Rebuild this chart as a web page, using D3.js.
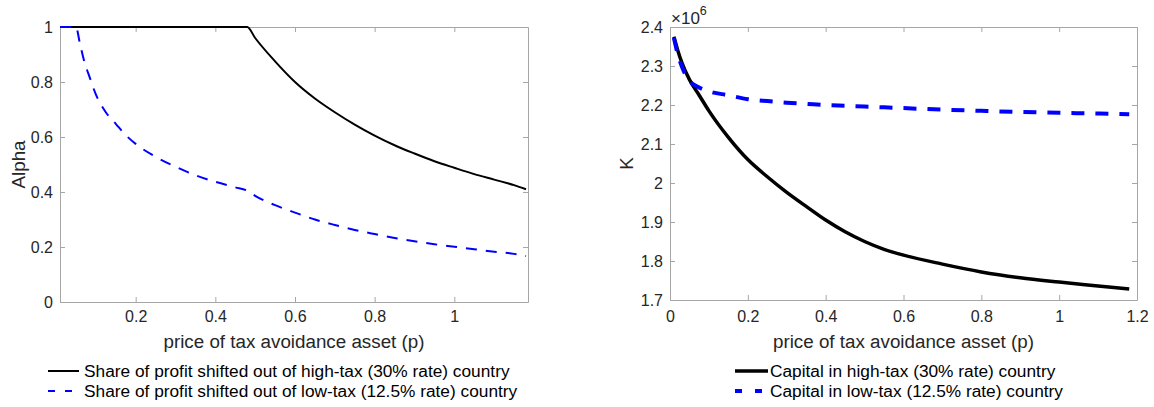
<!DOCTYPE html>
<html lang="en">
<head>
<meta charset="UTF-8">
<title>Profit shifting and capital vs price of tax avoidance asset</title>
<style>
  body { margin: 0; background: #fff; font-family: "Liberation Sans", Arial, sans-serif; }
  .tick text { fill: #262626; font-size: 16px; }
  .lab { fill: #262626; font-size: 18.8px; }
  .leg { fill: #000; font-size: 17.3px; }
</style>
</head>
<body>
<svg width="1154" height="407"></svg>
<script src="https://d3js.org/d3.v7.min.js"></script>
<script>
// left panel: share of profit shifted (alpha)
const pHigh = [0.01, 0.1, 0.2, 0.3, 0.4, 0.48, 0.5, 0.55, 0.6, 0.65, 0.7, 0.75, 0.8, 0.85, 0.9, 0.95, 1.0, 1.05, 1.1, 1.15, 1.18];
const alphaHigh = [1, 1, 1, 1, 1, 1, 0.96, 0.875, 0.80, 0.74, 0.69, 0.645, 0.605, 0.57, 0.54, 0.512, 0.488, 0.465, 0.445, 0.425, 0.41];
const pLow = [0.01, 0.05, 0.06, 0.07, 0.085, 0.1, 0.125, 0.15, 0.175, 0.2, 0.25, 0.3, 0.35, 0.4, 0.45, 0.48, 0.5, 0.55, 0.6, 0.65, 0.7, 0.75, 0.8, 0.85, 0.9, 0.95, 1.0, 1.05, 1.1, 1.15, 1.18];
const alphaLow = [1, 1, 0.94, 0.88, 0.815, 0.755, 0.69, 0.648, 0.607, 0.575, 0.528, 0.492, 0.461, 0.437, 0.417, 0.405, 0.386, 0.352, 0.325, 0.30, 0.28, 0.262, 0.247, 0.233, 0.221, 0.21, 0.201, 0.192, 0.183, 0.175, 0.167];

// right panel: capital K (x 1e6)
const pK = [0.01, 0.02, 0.03, 0.05, 0.075, 0.1, 0.15, 0.2, 0.25, 0.3, 0.35, 0.4, 0.45, 0.5, 0.55, 0.6, 0.7, 0.8, 0.9, 1.0, 1.1, 1.18];
const kHigh = [2.375, 2.34, 2.31, 2.265, 2.225, 2.185, 2.117, 2.06, 2.016, 1.976, 1.94, 1.905, 1.875, 1.85, 1.83, 1.815, 1.792, 1.772, 1.757, 1.746, 1.736, 1.728];
const kLow = [2.372, 2.33, 2.30, 2.262, 2.245, 2.235, 2.225, 2.215, 2.21, 2.206, 2.203, 2.2, 2.198, 2.196, 2.194, 2.192, 2.188, 2.185, 2.182, 2.18, 2.178, 2.176];

const leftTicksX = [0.2, 0.4, 0.6, 0.8, 1];
const leftTicksY = [0, 0.2, 0.4, 0.6, 0.8, 1];
const rightTicksX = [0, 0.2, 0.4, 0.6, 0.8, 1, 1.2];
const rightTicksY = [1.7, 1.8, 1.9, 2, 2.1, 2.2, 2.3, 2.4];

const svg = d3.select("svg");
const fmt = d => String(+d.toFixed(2));

function panel(o) {
  const x = d3.scaleLinear().domain(o.xd).range([o.x0, o.x1]);
  const y = d3.scaleLinear().domain(o.yd).range([o.y1, o.y0]);
  const g = svg.append("g");
  const tl = 5;

  // box + inward ticks on all sides
  const ax = (axis, tr, lab) => {
    const a = g.append("g").attr("transform", tr).call(axis);
    a.select(".domain").attr("stroke", "#a6a6a6").attr("stroke-width", 1);
    a.selectAll(".tick line").attr("stroke", "#a6a6a6");
    if (!lab) a.selectAll(".tick text").remove();
    return a;
  };
  ax(d3.axisBottom(x).tickValues(o.xt).tickSize(-tl).tickPadding(o.y1 === 302 ? 9 : 11).tickFormat(fmt).tickSizeOuter(0), `translate(0,${o.y1})`, true);
  ax(d3.axisTop(x).tickValues(o.xt).tickSize(-tl).tickSizeOuter(0), `translate(0,${o.y0})`, false);
  ax(d3.axisLeft(y).tickValues(o.yt).tickSize(-tl).tickPadding(7).tickFormat(fmt).tickSizeOuter(0), `translate(${o.x0},0)`, true);
  ax(d3.axisRight(y).tickValues(o.yt).tickSize(-tl).tickSizeOuter(0), `translate(${o.x1},0)`, false);

  const line = d3.line().x(d => x(d[0])).y(d => y(d[1])).curve(d3.curveMonotoneX);
  o.series.forEach(s => {
    g.append("path")
      .datum(s.xs.map((v, i) => [v, s.ys[i]]))
      .attr("fill", "none")
      .attr("stroke", s.color)
      .attr("stroke-width", s.w)
      .attr("stroke-dasharray", s.dash || null)
      .attr("d", line);
  });

  g.append("text").attr("class", "lab")
    .attr("text-anchor", "middle")
    .attr("x", (o.x0 + o.x1) / 2).attr("y", 348)
    .text("price of tax avoidance asset (p)");
  g.append("text").attr("class", "lab")
    .attr("text-anchor", "middle")
    .attr("transform", `translate(${o.ylabX},${(o.y0 + o.y1) / 2}) rotate(-90)`)
    .text(o.ylab);

  // legend
  o.series.forEach((s, i) => {
    const ly = o.legY + i * 20;
    g.append("line")
      .attr("x1", o.legX).attr("x2", o.legX + o.legLen)
      .attr("y1", ly).attr("y2", ly)
      .attr("stroke", s.color).attr("stroke-width", s.w)
      .attr("stroke-dasharray", s.dash ? s.legDash : null);
    g.append("text").attr("class", "leg")
      .attr("x", o.legX + o.legLen + o.legGap).attr("y", ly + 6)
      .text(s.name);
  });
  return g;
}

panel({
  x0: 60, x1: 528, y0: 27, y1: 302,
  xd: [0.01, 1.185], yd: [0, 1],
  xt: leftTicksX, yt: leftTicksY,
  ylab: "Alpha", ylabX: 25,
  legX: 48, legY: 371, legLen: 31, legGap: 5,
  series: [
    { xs: pHigh, ys: alphaHigh, color: "#000", w: 2, name: "Share of profit shifted out of high-tax (30% rate) country" },
    { xs: pLow, ys: alphaLow, color: "#0000ff", w: 2, dash: "11,9", legDash: "7,10", name: "Share of profit shifted out of low-tax (12.5% rate) country" }
  ]
});

const right = panel({
  x0: 670, x1: 1137, y0: 27, y1: 300,
  xd: [0, 1.2], yd: [1.7, 2.4],
  xt: rightTicksX, yt: rightTicksY,
  ylab: "K", ylabX: 633,
  legX: 735, legY: 371, legLen: 33, legGap: 2,
  series: [
    { xs: pK, ys: kHigh, color: "#000", w: 3.5, name: "Capital in high-tax (30% rate) country" },
    { xs: pK, ys: kLow, color: "#0000ff", w: 4, dash: "13,11", legDash: "7,13", name: "Capital in low-tax (12.5% rate) country" }
  ]
});

// exponent label
const ex = right.append("text").attr("class", "lab").attr("x", 671).attr("y", 24).style("font-size", "17px");
ex.append("tspan").text("\u00d710");
ex.append("tspan").attr("dy", -9).style("font-size", "12.5px").text("6");
</script>
</body>
</html>
